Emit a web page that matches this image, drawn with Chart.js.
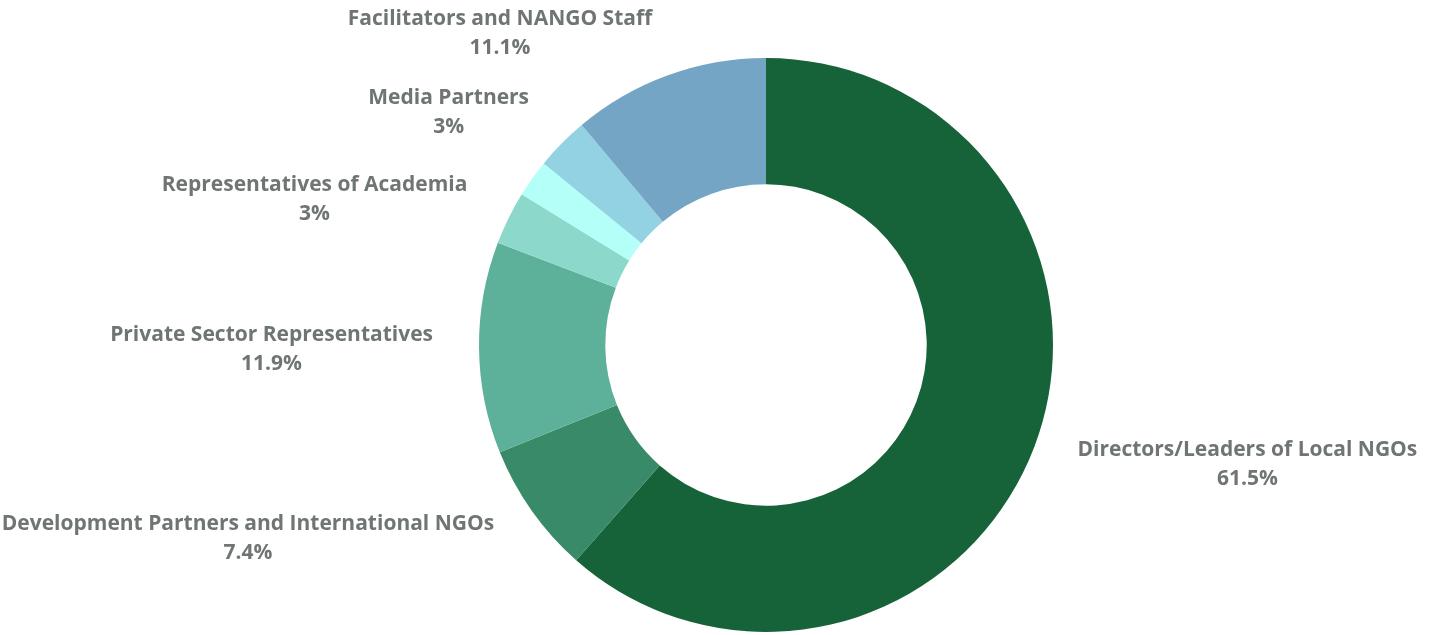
<!DOCTYPE html>
<html>
<head>
<meta charset="utf-8">
<script src="https://cdn.jsdelivr.net/npm/chart.js@4"></script>
<style>
  html, body { margin: 0; padding: 0; background: #ffffff; }
  #wrap { width: 1435px; height: 635px; }
</style>
</head>
<body>
<div id="wrap"><canvas id="donut"></canvas></div>
<script>
const categories = [
  "Directors/Leaders of Local NGOs",
  "Development Partners and International NGOs",
  "Private Sector Representatives",
  "Representatives of Academia",
  "",
  "Media Partners",
  "Facilitators and NANGO Staff"
];
const shares = [61.5, 7.4, 11.9, 3, 2.1, 3, 11.1];
const valueLabels = ["61.5%", "7.4%", "11.9%", "3%", "", "3%", "11.1%"];
const sliceColors = ["#176339", "#388a68", "#5db19a", "#8cd8cb", "#b5fff9", "#92d2e2", "#74a5c5"];

// draws the two-line labels outside each slice
const outsideLabels = {
  id: "outsideLabels",
  afterDatasetsDraw(chart) {
    const ctx = chart.ctx;
    const arcs = chart.getDatasetMeta(0).data;
    ctx.save();
    ctx.font = "bold 21px 'Open Sans'";
    ctx.fillStyle = "#6f7672";
    ctx.textAlign = "center";
    ctx.textBaseline = "middle";
    arcs.forEach((arc, i) => {
      if (!categories[i]) return;
      const p = arc.getProps(["x", "y", "startAngle", "endAngle", "outerRadius"], true);
      const mid = (p.startAngle + p.endAngle) / 2;
      const r = p.outerRadius + 46;
      const ax = p.x + Math.cos(mid) * r;
      const ay = p.y + Math.sin(mid) * r;
      const w = Math.max(ctx.measureText(categories[i]).width, ctx.measureText(valueLabels[i]).width);
      const cx = Math.cos(mid) >= 0 ? ax + w / 2 : ax - w / 2;
      ctx.fillText(categories[i], cx, ay - 13);
      ctx.fillText(valueLabels[i], cx, ay + 16);
    });
    ctx.restore();
  }
};

new Chart(document.getElementById("donut"), {
  type: "doughnut",
  data: {
    labels: categories,
    datasets: [{
      data: shares,
      backgroundColor: sliceColors,
      borderWidth: 0
    }]
  },
  options: {
    responsive: true,
    maintainAspectRatio: false,
    animation: false,
    cutout: "56%",
    layout: { padding: { top: 58, bottom: 3, left: 400, right: 303 } },
    plugins: {
      legend: { display: false },
      tooltip: { enabled: false }
    }
  },
  plugins: [outsideLabels]
});
</script>
</body>
</html>
